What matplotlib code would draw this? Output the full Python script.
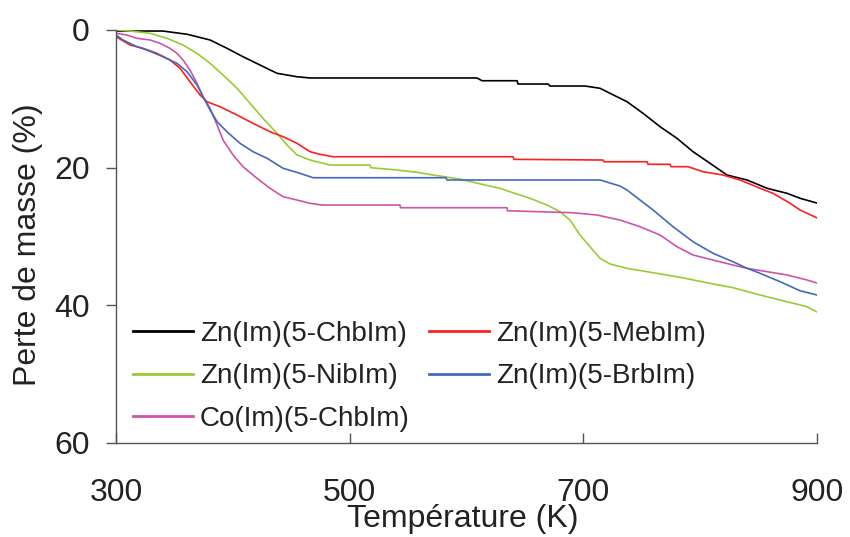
import matplotlib
matplotlib.use("Agg")
import matplotlib.pyplot as plt

plt.rcParams['font.family'] = ['Liberation Sans', 'DejaVu Sans']

# Zn(Im)(5-ChbIm)
t_chb = [300, 340.2, 360.8, 380.5, 395.0, 408.7, 423.3, 437.8, 454.9, 466.1, 609.0, 613.3,
         643.3, 644.1, 669.8, 671.5, 701.5, 714.3, 722.9, 737.4, 751.1, 765.7, 780.2,
         793.9, 808.5, 823.0, 840.1, 857.3, 874.4, 885.5, 900]
m_chb = [0.15, 0.15, 0.62, 1.45, 2.66, 3.88, 5.09, 6.29, 6.79, 6.97, 6.97, 7.37,
         7.37, 7.85, 7.85, 8.14, 8.14, 8.47, 9.20, 10.42, 12.10, 14.05, 15.74,
         17.68, 19.37, 21.07, 21.79, 23.0, 23.73, 24.45, 25.14]

# Zn(Im)(5-MebIm)
t_meb = [300, 312.0, 323.1, 335.1, 346.2, 354.8, 363.3, 371.9, 377.9, 389.0, 403.6, 417.3,
         431.8, 443.0, 454.9, 466.1, 474.6, 485.8, 639.8, 640.7, 716.9, 717.7, 754.5,
         755.4, 774.2, 775.1, 789.6, 802.5, 819.6, 834.1, 851.3, 862.4, 877.0, 885.5, 900]
m_meb = [0.97, 2.18, 2.66, 3.39, 4.36, 5.56, 7.51, 9.44, 10.42, 11.14, 12.35, 13.56,
         14.78, 15.5, 16.46, 17.68, 18.06, 18.41, 18.41, 18.79, 18.89, 19.14, 19.14,
         19.51, 19.51, 19.86, 19.86, 20.59, 21.07, 21.79, 23.0, 23.73, 25.18, 26.15, 27.3]

# Zn(Im)(5-NibIm)
t_nib = [300, 312, 329.1, 343.7, 357.4, 369.3, 380.5, 391.6, 403.6, 414.7, 425.8, 437.8,
         446.4, 454.9, 466.1, 483.2, 517.4, 518.3, 540.5, 557.7, 571.4, 594.5, 613.3,
         628.7, 639.8, 654.4, 668.9, 680.1, 688.6, 697.2, 705.7, 714.3, 722.9, 737.4,
         759.7, 782.8, 805.9, 828.2, 851.3, 874.4, 891.5, 900]
m_nib = [0, 0.15, 0.48, 1.21, 2.18, 3.39, 4.84, 6.54, 8.47, 10.65, 12.83, 15.01,
         16.71, 18.16, 18.89, 19.62, 19.62, 20.01, 20.34, 20.68, 21.07, 21.65, 22.42,
         23.0, 23.64, 24.45, 25.43, 26.4, 27.61, 29.79, 31.49, 33.17, 34.0, 34.62,
         35.26, 35.93, 36.72, 37.44, 38.5, 39.48, 40.2, 40.97]

# Zn(Im)(5-BrbIm)
t_brb = [300, 306, 318, 326.5, 340.2, 352.2, 360.8, 369.3, 374.5, 380.5, 386.5, 395.0,
         406.1, 417.3, 429.3, 443.0, 457.5, 468.6, 582.5, 583.3, 714.3, 731.4, 737.4,
         759.7, 776.8, 793.9, 811.0, 828.2, 840.1, 851.3, 868.4, 885.5, 900]
m_brb = [0.73, 1.45, 2.43, 2.91, 3.88, 4.84, 6.06, 7.99, 9.69, 11.62, 13.32, 14.78,
         16.46, 17.68, 18.64, 20.09, 20.82, 21.46, 21.46, 21.79, 21.79, 22.67, 23.25,
         26.15, 28.58, 30.76, 32.44, 33.67, 34.62, 35.35, 36.57, 37.88, 38.5]

# Co(Im)(5-ChbIm)
t_co = [300, 309.4, 318, 329.1, 337.7, 346.2, 352.2, 357.4, 363.3, 369.3, 374.5, 380.5,
        386.5, 391.6, 400.2, 408.7, 420.7, 431.8, 443.0, 454.9, 466.1, 476.3, 543.1,
        543.5, 634.7, 635.0, 691.2, 711.7, 731.4, 748.5, 765.7, 780.2, 793.9, 811.0,
        828.2, 840.1, 857.3, 874.4, 891.5, 900]
m_co = [0.48, 0.73, 1.21, 1.45, 1.93, 2.66, 3.39, 4.36, 5.81, 7.74, 9.69, 11.38,
        13.8, 15.98, 18.16, 19.86, 21.55, 23.0, 24.22, 24.7, 25.18, 25.43, 25.43,
        25.82, 25.82, 26.26, 26.55, 26.88, 27.61, 28.58, 29.79, 31.49, 32.69, 33.42,
        34.15, 34.62, 35.11, 35.59, 36.32, 36.76]

series = [
    (t_chb, m_chb, "Zn(Im)(5-ChbIm)", "#000000"),
    (t_nib, m_nib, "Zn(Im)(5-NibIm)", "#99CC33"),
    (t_co, m_co, "Co(Im)(5-ChbIm)", "#CC55AA"),
    (t_meb, m_meb, "Zn(Im)(5-MebIm)", "#FF1F1F"),
    (t_brb, m_brb, "Zn(Im)(5-BrbIm)", "#4468BC"),
]

fig = plt.figure(figsize=(8.5, 5.37), dpi=100)
ax = fig.add_axes([116/850, 1 - 443/537, 701/850, 413/537])

for t, m, lab, col in series:
    ax.plot(t, m, color=col, lw=1.2, label=lab)

ax.set_xlim(300, 900)
ax.set_ylim(60, 0)
ax.set_xticks([300, 500, 700, 900])
ax.set_yticks([0, 20, 40, 60])

for s in ['top', 'right']:
    ax.spines[s].set_visible(False)
for s in ['left', 'bottom']:
    ax.spines[s].set_color('#555555')
    ax.spines[s].set_linewidth(1.0)

ax.tick_params(axis='x', direction='in', length=7, width=1, color='#555555',
               pad=25, labelsize=23, labelcolor='#222222')
ax.tick_params(axis='y', direction='out', length=7, width=1, color='#555555',
               pad=12, labelsize=23, labelcolor='#222222')

ax.set_xlabel("Température (K)", fontsize=23, color='#222222')
ax.xaxis.set_label_coords(0.495, -0.184)
ax.xaxis.label.set_va('center')
ax.set_ylabel("Perte de masse (%)", fontsize=23, color='#222222')
ax.yaxis.set_label_coords(-0.125, 0.48)
ax.yaxis.label.set_va('center')

leg = ax.legend(loc='upper left', bbox_to_anchor=(0.024, 0.296), ncol=2,
                frameon=False, fontsize=20, handlelength=2.16, handletextpad=0.25,
                columnspacing=0.7, labelspacing=0.6, borderpad=0, borderaxespad=0)
for h in leg.get_lines():
    h.set_linewidth(2)
for txt in leg.get_texts():
    txt.set_color('#222222')

fig.savefig("out.png", dpi=100)
